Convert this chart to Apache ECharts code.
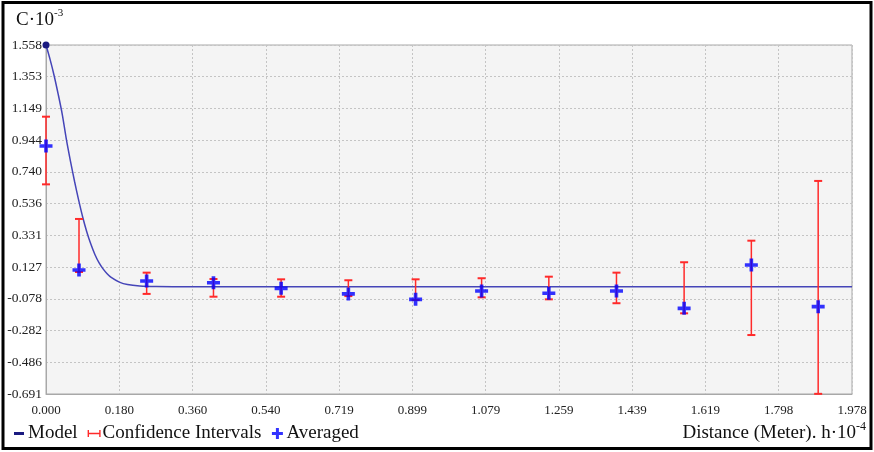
<!DOCTYPE html>
<html>
<head>
<meta charset="utf-8">
<script src="https://cdn.jsdelivr.net/npm/echarts@6/dist/echarts.min.js"></script>
<style>
html,body{margin:0;padding:0;background:#fff;}
#chart{width:874px;height:452px;}
</style>
</head>
<body>
<div id="chart"></div>
<script>
// Tick labels as printed on the reference
const xTickLabels = ['0.000','0.180','0.360','0.540','0.719','0.899','1.079','1.259','1.439','1.619','1.798','1.978'];
const yTickLabels = ['-0.691','-0.486','-0.282','-0.078','0.127','0.331','0.536','0.740','0.944','1.149','1.353','1.558'];

// Model curve
const modelX = [0, 0.01, 0.02, 0.03, 0.04, 0.05, 0.06, 0.07, 0.08, 0.09, 0.10, 0.11, 0.12, 0.13, 0.14, 0.15, 0.16, 0.18, 0.20, 0.23, 0.27, 0.33, 1.978];
const modelY = [1.558, 1.465, 1.36, 1.24, 1.11, 0.95, 0.81, 0.68, 0.56, 0.45, 0.355, 0.275, 0.208, 0.155, 0.115, 0.084, 0.060, 0.030, 0.014, 0.005, 0.001, 0.0, 0.0];

// Averaged measurements and confidence intervals
const avgX  = [0, 0.081, 0.247, 0.411, 0.577, 0.742, 0.907, 1.069, 1.234, 1.400, 1.566, 1.731, 1.895];
const avgY  = [0.907, 0.108, 0.037, 0.026, -0.010, -0.046, -0.081, -0.027, -0.042, -0.027, -0.139, 0.140, -0.128];
const ciLow = [0.660, 0.095, -0.046, -0.064, -0.064, -0.060, -0.085, -0.068, -0.081, -0.106, -0.171, -0.311, -0.690];
const ciHigh= [1.096, 0.437, 0.091, 0.050, 0.048, 0.042, 0.048, 0.055, 0.065, 0.091, 0.158, 0.297, 0.682];

const serif = '"Liberation Serif","DejaVu Serif",serif';
const modelData = modelX.map((x, i) => [x, modelY[i]]);
const avgData = avgX.map((x, i) => [x, avgY[i]]);
const ciData = avgX.map((x, i) => [x, ciLow[i], ciHigh[i]]);

const chart = echarts.init(document.getElementById('chart'), null, {renderer: 'canvas'});

const gridLine = {show: true, lineStyle: {color: '#c4c4c4', type: [2, 2], width: 1}};

chart.setOption({
  animation: false,
  backgroundColor: '#fff',
  grid: {left: 46, right: 22, top: 45, bottom: 58, show: true, backgroundColor: '#f4f4f4', borderColor: '#a8a8a8', borderWidth: 1},
  xAxis: [
    {type: 'value', min: 0, max: 1.978, show: false},
    {type: 'value', min: 0, max: 11, interval: 1, position: 'bottom',
     axisLine: {show: true, lineStyle: {color: '#a8a8a8'}}, axisTick: {show: false},
     axisLabel: {formatter: v => xTickLabels[v], fontFamily: serif, fontSize: 13, color: '#222', margin: 10},
     splitLine: gridLine}
  ],
  yAxis: [
    {type: 'value', min: -0.691, max: 1.558, show: false},
    {type: 'value', min: 0, max: 11, interval: 1, position: 'left',
     axisLine: {show: true, lineStyle: {color: '#a8a8a8'}}, axisTick: {show: false},
     axisLabel: {formatter: v => yTickLabels[v], fontFamily: serif, fontSize: 13.5, color: '#222', margin: 4},
     splitLine: gridLine}
  ],
  legend: {
    left: 12, top: 424, padding: 0, itemGap: 9, itemWidth: 14, itemHeight: 14,
    textStyle: {fontFamily: serif, fontSize: 19, color: '#111', padding: [0,0,0,-3]},
    data: [
      {name: 'Model', icon: 'path://M0,0M14,14M2,5.5h10v3h-10z', itemStyle: {color: '#1a1a80'}},
      {name: 'Confidence Intervals', icon: 'path://M0,0M14,14M1,3.5h1.4v2.8h10.2v-2.8h1.4v7h-1.4v-2.8h-10.2v2.8h-1.4z', itemStyle: {color: '#ff2a2a'}},
      {name: 'Averaged', icon: 'path://M0,0M14,14M5.5,1.5h3v4h4v3h-4v4h-3v-4h-4v-3h4z', itemStyle: {color: '#0000ff'}}
    ]
  },
  series: [
    {name: 'Model', type: 'line', xAxisIndex: 0, yAxisIndex: 0, data: modelData, smooth: 0.3,
     symbol: 'circle', symbolSize: (v, p) => p.dataIndex === 0 ? 7 : 0, showSymbol: true,
     itemStyle: {color: '#1a1a80'}, lineStyle: {color: '#4545b8', width: 1.5}, z: 2},
    {name: 'Confidence Intervals', type: 'custom', xAxisIndex: 0, yAxisIndex: 0, data: ciData,
     itemStyle: {color: '#ff2a2a'}, z: 3,
     encode: {x: 0, y: [1, 2]},
     renderItem: function (params, api) {
       const lo = api.coord([api.value(0), api.value(1)]);
       const hi = api.coord([api.value(0), api.value(2)]);
       const w = 4;
       const st = {stroke: '#ff2a2a', lineWidth: 1.5};
       return {type: 'group', children: [
         {type: 'line', shape: {x1: lo[0], y1: lo[1], x2: hi[0], y2: hi[1]}, style: st},
         {type: 'line', shape: {x1: lo[0]-w, y1: lo[1], x2: lo[0]+w, y2: lo[1]}, style: {stroke: '#ff2a2a', lineWidth: 2}},
         {type: 'line', shape: {x1: hi[0]-w, y1: hi[1], x2: hi[0]+w, y2: hi[1]}, style: {stroke: '#ff2a2a', lineWidth: 2}}
       ]};
     }},
    {name: 'Averaged', type: 'scatter', xAxisIndex: 0, yAxisIndex: 0, data: avgData,
     symbol: 'path://M4.5,0h3.5v4.5h4.5v3.5h-4.5v4.5h-3.5v-4.5h-4.5v-3.5h4.5z', symbolSize: 13,
     itemStyle: {color: '#0000ff'}, z: 4}
  ],
  graphic: [
    {type: 'rect', shape: {x: 3, y: 2.5, width: 868, height: 446}, style: {fill: 'none', stroke: '#000', lineWidth: 3}, silent: true},
    {type: 'text', left: 16, top: 8, style: {
      text: '{b|C·10}{s|-3}', rich: {
        b: {fontFamily: serif, fontSize: 19, fill: '#111', verticalAlign: 'bottom'},
        s: {fontFamily: serif, fontSize: 11, fill: '#111', verticalAlign: 'top', padding: [0,0,11,0]}
      }}},
    {type: 'text', right: 8, top: 421, style: {
      text: '{b|Distance (Meter). h·10}{s|-4}', rich: {
        b: {fontFamily: serif, fontSize: 19, fill: '#111'},
        s: {fontFamily: serif, fontSize: 12, fill: '#111', padding: [0,0,12,0]}
      }}}
  ]
});
</script>
</body>
</html>
